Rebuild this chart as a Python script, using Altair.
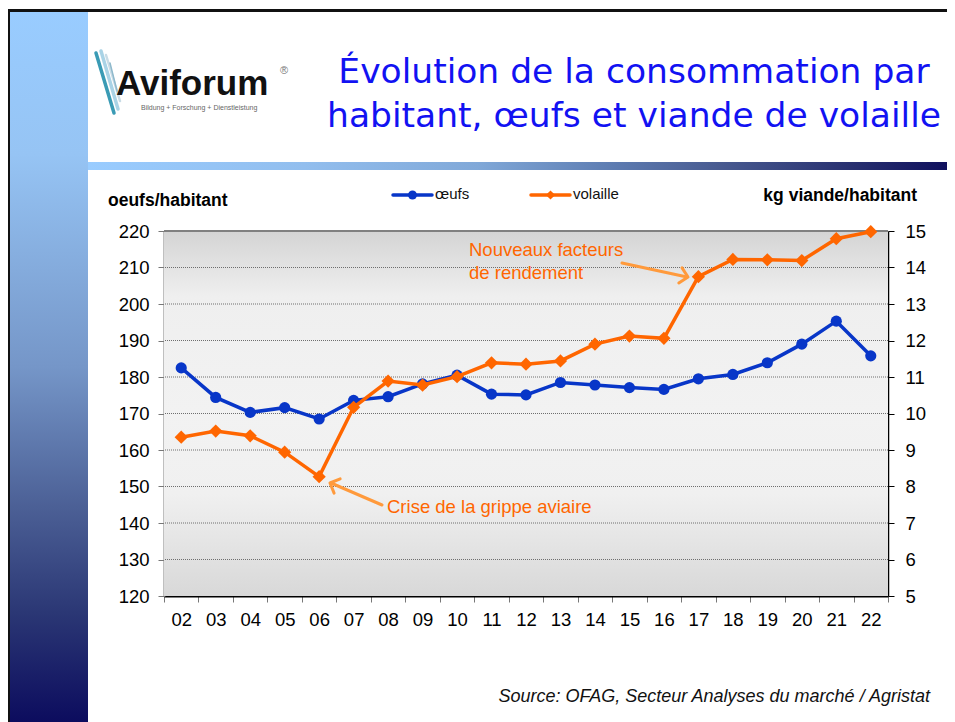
import altair as alt
import pandas as pd

# ---------------- data ----------------
annees = ["02", "03", "04", "05", "06", "07", "08", "09", "10", "11", "12",
          "13", "14", "15", "16", "17", "18", "19", "20", "21", "22"]
oeufs = [182.5, 174.4, 170.3, 171.6, 168.5, 173.6, 174.6, 178.1, 180.5, 175.3, 175.1,
         178.5, 177.8, 177.1, 176.6, 179.5, 180.7, 183.9, 189.0, 195.3, 185.8]
volaille = [9.35, 9.52, 9.39, 8.94, 8.27, 10.17, 10.89, 10.78, 11.01, 11.39, 11.35,
            11.44, 11.90, 12.12, 12.06, 13.75, 14.22, 14.21, 14.19, 14.79, 14.98]
ticks_oeufs = [120, 130, 140, 150, 160, 170, 180, 190, 200, 210, 220]
ticks_volaille = [5, 6, 7, 8, 9, 10, 11, 12, 13, 14, 15]
series = ["œufs", "volaille"]

df = pd.DataFrame({"annee": annees, "oeufs": oeufs, "volaille": volaille})
grid = pd.DataFrame({"v": ticks_oeufs[1:-1]})
one = pd.DataFrame({"k": [0]})

W, H = 724, 365
FONT = "Liberation Sans"
BLUE = "#0836C8"
ORANGE = "#FF6600"
ARROW = "#FF9A3C"


def grad(stops, horizontal=False):
    g = {"gradient": "linear", "x1": 0, "y1": 0,
         "x2": 1 if horizontal else 0, "y2": 0 if horizontal else 1,
         "stops": [{"offset": o, "color": c} for o, c in stops]}
    return g


def box(x, x2, y, y2, fill):
    return alt.Chart(one).mark_rect(fill=fill).encode(
        x=alt.value(x), x2=alt.value(x2), y=alt.value(y), y2=alt.value(y2))


def seg(x, y, x2, y2, color, width):
    return alt.Chart(one).mark_rule(color=color, strokeWidth=width, strokeCap="round").encode(
        x=alt.value(x), y=alt.value(y), x2=alt.value(x2), y2=alt.value(y2))


def txt(s, x, y, size, color="#000000", font=FONT, align="left", baseline="middle", **kw):
    return alt.Chart(one).mark_text(text=s, fontSize=size, color=color, font=font,
                                    align=align, baseline=baseline, **kw).encode(
        x=alt.value(x), y=alt.value(y))


def chevron(x, y, angle, color, size):
    return alt.Chart(one).mark_point(shape="M-1,-1L0,0L-1,1", filled=False, stroke=color,
                                     strokeWidth=3, size=size, angle=angle, opacity=1,
                                     strokeCap="round", strokeJoin="round").encode(
        x=alt.value(x), y=alt.value(y))


# ---------------- slide decoration (view origin = page (164, 231)) ----------------
band = box(-154, -76, -219, 491, grad([(0, "#99CCFF"), (0.2, "#96C4F4"), (0.5, "#7596C8"),
                                        (0.7, "#4B5F95"), (0.85, "#2A3674"), (1, "#0C0C5E")]))
hbar = box(-76, 791, -69, -61, grad([(0, "#99CCFF"), (0.25, "#92BEEE"), (0.45, "#80A8D8"),
                                      (0.59, "#6080B5"), (0.73, "#485A90"), (0.88, "#283070"),
                                      (1, "#0E0E5C")], horizontal=True))
border_left = box(-157, -154, -222, 491, "#111111")
border_top = box(-157, 791, -222, -219, "#111111")

title1 = txt("Évolution de la consommation par", 470, -148, 34.5, "#1212F2",
             font="DejaVu Sans", align="center", baseline="alphabetic")
title2 = txt("habitant, œufs et viande de volaille", 470, -104, 34.5, "#1212F2",
             font="DejaVu Sans", align="center", baseline="alphabetic")

logo_lines = [
    seg(-68, -178, -50, -118, "#3A9BB5", 3.5),
    seg(-63, -180, -46, -122, "#A9D3E6", 3.5),
    seg(-58, -176, -44, -130, "#C9DCE6", 2.5),
    seg(-54, -168, -47, -140, "#8FB9CC", 1.5),
]
logo = txt("Aviforum", -48, -136, 35, "#111111", baseline="alphabetic", fontWeight="bold")
logo_r = txt("®", 116, -160, 11, "#777777")
logo_sub = txt("Bildung + Forschung + Dienstleistung", -23, -123, 7, "#666666")

source = txt("Source: OFAG, Secteur Analyses du marché / Agristat", 766, 466, 18, "#111111",
             align="right", fontStyle="italic")

# ---------------- plot area ----------------
plot_bg = box(0, W, 0, H, grad([(0, "#D4D4D4"), (0.18, "#EFEFEF"), (0.5, "#F2F2F2"),
                                (0.72, "#F0F0F0"), (1, "#D8D8D8")]))
top_border = alt.Chart(one).mark_rule(color="#808080", strokeWidth=2).encode(
    y=alt.value(0), x=alt.value(0), x2=alt.value(W))

x_enc = alt.X("annee:N", bandPosition=0.5,
              scale=alt.Scale(type="band", domain=annees, paddingInner=0, paddingOuter=0),
              axis=alt.Axis(title=None, labelAngle=0, labelFont=FONT, labelFontSize=18.5,
                            labelColor="#000000", labelPadding=8, tickBand="extent",
                            tickSize=6, tickColor="#777777", domainColor="#000000",
                            domainWidth=2, grid=False))

y_oeufs = alt.Y("v:Q", scale=alt.Scale(domain=[120, 220], nice=False, zero=False),
                axis=alt.Axis(orient="left", title=None, values=ticks_oeufs, labelFont=FONT,
                              labelFontSize=18.5, labelColor="#000000", labelPadding=9,
                              tickSize=6, tickColor="#777777", domainColor="#808080",
                              domainWidth=2, grid=False))

grid_layer = alt.Chart(grid).mark_rule(color="#6E6E6E", strokeWidth=1, strokeDash=[1, 1]).encode(
    y=y_oeufs)

egg_base = alt.Chart(df).transform_calculate(v="datum.oeufs").encode(x=x_enc, y=y_oeufs)
egg_line = egg_base.mark_line(color=BLUE, strokeWidth=3.5)
egg_pts = egg_base.mark_point(shape="circle", filled=True, size=125, color=BLUE, opacity=1)

egg_layer = alt.layer(grid_layer, egg_line, egg_pts)

y_vol = alt.Y("volaille:Q", scale=alt.Scale(domain=[5, 15], nice=False, zero=False),
              axis=alt.Axis(orient="right", title=None, values=ticks_volaille, labelFont=FONT,
                            labelFontSize=18.5, labelColor="#000000", labelPadding=11,
                            tickSize=6, tickColor="#000000", domainColor="#000000",
                            domainWidth=1.5, grid=False))
vol_base = alt.Chart(df).encode(x=x_enc, y=y_vol)
vol_line = vol_base.mark_line(color=ORANGE, strokeWidth=3.5)
vol_pts = vol_base.mark_point(shape="diamond", filled=True, size=175, color=ORANGE, opacity=1)
vol_layer = alt.layer(vol_line, vol_pts)

# axis titles
title_left = txt("oeufs/habitant", -56, -30, 17.5, fontWeight="bold")
title_right = txt("kg viande/habitant", 753, -35, 17.5, align="right", fontWeight="bold")

# legend
def legend_item(name, color, shape, x0, size):
    return [
        seg(x0, -36, x0 + 39, -36, color, 3.5),
        alt.Chart(one).mark_point(shape=shape, filled=True, size=size, color=color, opacity=1)
        .encode(x=alt.value(x0 + 19.5), y=alt.value(-36)),
        txt(name, x0 + 42, -37, 15, "#111111"),
    ]

legend = legend_item(series[0], BLUE, "circle", 229, 80) + \
         legend_item(series[1], ORANGE, "diamond", 367, 85)

# annotations
ann1a = txt("Nouveaux facteurs", 305, 19, 18.5, ORANGE)
ann1b = txt("de rendement", 305, 42, 18.5, ORANGE)
arrow1 = seg(458, 32, 523, 46, ARROW, 3)
head1 = chevron(524, 46, 12, ARROW, 240)
ann2 = txt("Crise de la grippe aviaire", 223, 276, 18.5, ORANGE)
arrow2 = seg(218, 274, 167, 252, ARROW, 3)
head2 = chevron(166, 252, 203, ARROW, 240)

decor_front = [title_left, title_right] + legend + [ann1a, ann1b, arrow1, head1, ann2, arrow2, head2]

chart = alt.layer(
    band, hbar, border_left, border_top, title1, title2, *logo_lines, logo, logo_r, logo_sub,
    source, plot_bg, top_border, egg_layer, vol_layer, *decor_front
).resolve_scale(y="independent").properties(
    width=W, height=H,
    padding={"left": 156, "top": 223, "right": 59, "bottom": 126},
    autosize=alt.AutoSizeParams(type="none"),
    background="#FFFFFF",
).configure_view(stroke=None)

chart.save("out.html", embed_options={"renderer": "svg", "actions": False})
